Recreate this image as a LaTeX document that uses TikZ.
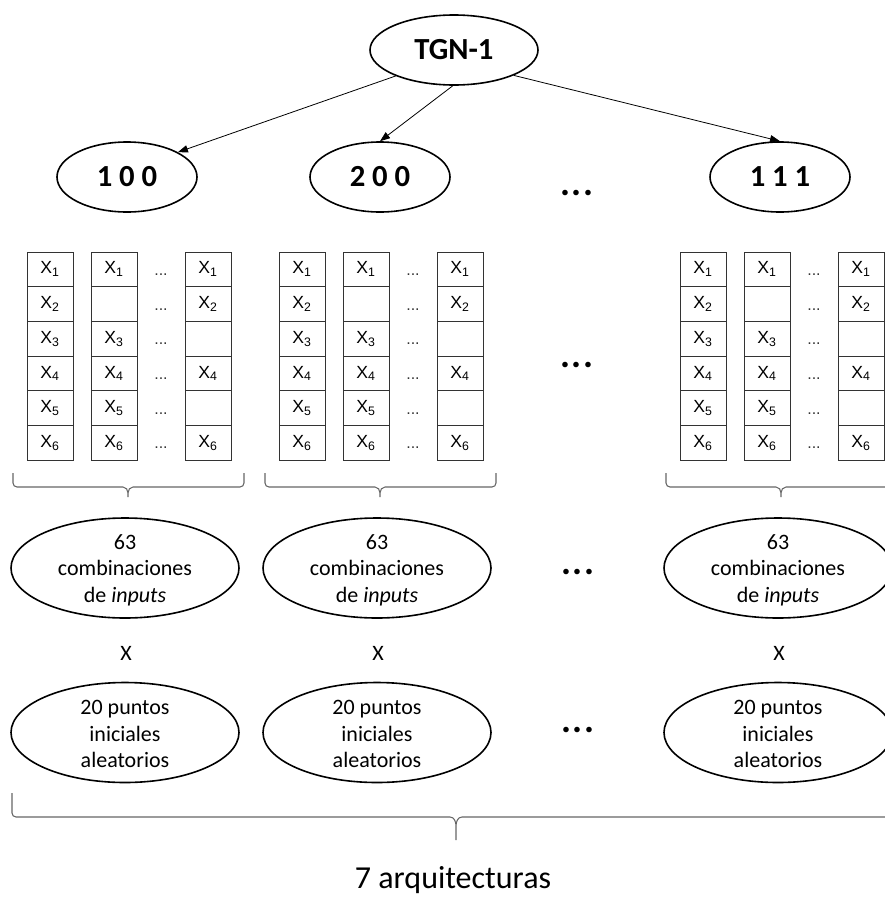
\documentclass[tikz,border=0pt]{standalone}
\usepackage{fontspec}
\setmainfont{Carlito}
\newfontfamily\arialf{Liberation Sans}
\usetikzlibrary{shapes.geometric,arrows.meta}
\begin{document}
\begin{tikzpicture}[x=0.75pt,y=-0.75pt,
  ell/.style={ellipse, draw, line width=1.2pt, inner sep=0pt},
  topell/.style={ell, minimum width=126pt, minimum height=52.5pt, font=\fontsize{23}{28}\selectfont\bfseries},
  lvlell/.style={ell, minimum width=105pt, minimum height=52.5pt, font=\fontsize{23}{28}\selectfont\bfseries},
  bigell/.style={ell, minimum width=171pt, minimum height=75pt},
  etext/.style={align=center, inner sep=0pt, font=\fontsize{16.5}{19.8}\selectfont},
  cell/.style={draw=black!80, line width=0.75pt, minimum width=34.5pt, minimum height=26pt, inner sep=0pt, font=\arialf\fontsize{13.2}{15}\selectfont},
  celldots/.style={anchor=base, inner sep=0pt, font=\arialf\fontsize{12}{14}\selectfont, text=black!80},
  bigdots/.style={inner sep=0pt, font=\fontsize{28}{32}\selectfont\bfseries},
  arr/.style={-{Triangle[length=7.5pt,width=5.5pt]}, line width=0.6pt},
  brc/.style={draw=black!60, line width=0.8pt},
]
\useasboundingbox (0,0) rectangle (885,897);
\clip (0,0) rectangle (885,897);

% top tree
\node[topell] (tgn) at (454,50) {TGN-1};
\node[lvlell] (c100) at (127,177) {1 0 0};
\node[lvlell] (c200) at (380,177) {2 0 0};
\node[lvlell] (c111) at (780,177) {1 1 1};
\node[bigdots] (dtop) at (577,193) {.\kern1.5pt.\kern1.5pt.};
\draw[arr] (tgn.204) -- (c100.26);
\draw[arr] (tgn.268) -- (c200.north);
\draw[arr] (tgn.337) -- (c111.north);

% input tables
\foreach \b/\xs in {1/27, 2/279, 3/680} {
  \foreach \r/\ta/\tb in {1/1/1, 2/0/1, 3/1/0, 4/1/1, 5/1/0, 6/1/1} {
    \node[cell] (b\b p\r) at (\xs+23, 234.65+34.7*\r) {X\textsubscript{\r}};
    \node[cell] (b\b q\r) at (\xs+87, 234.65+34.7*\r) {\ifnum\ta=1 X\textsubscript{\r}\fi};
    \node[cell] (b\b s\r) at (\xs+181, 234.65+34.7*\r) {\ifnum\tb=1 X\textsubscript{\r}\fi};
    \node[celldots] (b\b d\r) at (\xs+134, 240.65+34.7*\r) {...};
  }
  \draw[brc] (\xs-14,473) -- (\xs-14,483) to[out=-90,in=180] (\xs-10,487)
     -- (\xs+96,487) to[out=0,in=90] (\xs+101,493) -- (\xs+101,497)
     (\xs+101,493) to[out=90,in=180] (\xs+106,487)
     -- (\xs+213,487) to[out=0,in=-90] (\xs+217,483) -- (\xs+217,473);
}
\node[bigdots] (dmid) at (577,365) {.\kern1.5pt.\kern1.5pt.};

% combinations row
\foreach \i/\x in {1/125, 2/377, 3/778} {
  \node[bigell] (comb\i) at (\x,568) {};
  \node[etext] (combt\i) at (\x,570) {63\\combinaciones\\de \textit{inputs}};
  \node[etext] (times\i) at (\x+1,653) {X};
  \node[bigell] (pts\i) at (\x,732.5) {};
  \node[etext] (ptst\i) at (\x,734) {20 puntos\\iniciales\\aleatorios};
}
\node[bigdots] (dcomb) at (578,572) {.\kern1.5pt.\kern1.5pt.};
\node[bigdots] (dpts) at (578,730) {.\kern1.5pt.\kern1.5pt.};

% big brace
\draw[brc] (12,793) -- (12,813) to[out=-90,in=180] (16,817)
   -- (450,817) to[out=0,in=90] (456,826) -- (456,840)
   (456,826) to[out=90,in=180] (462,817) -- (890,817);
\node[anchor=base, inner sep=0pt, font=\fontsize{24}{28}\selectfont] (arq) at (453,888) {7 arquitecturas};
\end{tikzpicture}
\end{document}
